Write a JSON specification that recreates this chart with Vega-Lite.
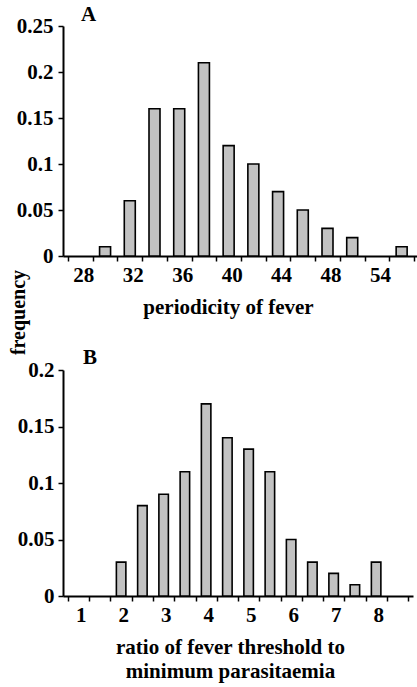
{
  "$schema": "https://vega.github.io/schema/vega-lite/v6.json",
  "padding": {"left": 9, "top": 4, "right": 0, "bottom": 2},
  "title": {"text": "frequency", "orient": "left", "anchor": "middle", "offset": -20, "dx": 30, "font": "Liberation Serif", "fontSize": 20, "fontWeight": "bold", "color": "black"},
  "config": {
    "view": {"stroke": null},
    "font": "Liberation Serif",
    "axis": {"domainColor": "black", "domainWidth": 2, "tickColor": "black", "tickWidth": 1.5, "tickSize": 5, "labelFont": "Liberation Serif", "labelFontWeight": "bold", "labelFontSize": 21, "labelColor": "black", "titleFont": "Liberation Serif", "titleFontWeight": "bold", "titleFontSize": 21, "titleColor": "black", "grid": false, "labelOverlap": false, "labelFlush": false},
    "title": {"font": "Liberation Serif", "fontSize": 21, "fontWeight": "bold", "color": "black"}
  },
  "columns": 1,
  "align": "none",
  "spacing": 30,
  "concat": [
    {
      "width": 356,
      "height": 230,
      "title": {"text": "A", "anchor": "start", "frame": "group", "dx": 18, "offset": -27, "baseline": "alphabetic"},
      "data": {"values": [
        {"period": 30, "frequency": 0.01},
        {"period": 32, "frequency": 0.06},
        {"period": 34, "frequency": 0.16},
        {"period": 36, "frequency": 0.16},
        {"period": 38, "frequency": 0.21},
        {"period": 40, "frequency": 0.12},
        {"period": 42, "frequency": 0.10},
        {"period": 44, "frequency": 0.07},
        {"period": 46, "frequency": 0.05},
        {"period": 48, "frequency": 0.03},
        {"period": 50, "frequency": 0.02},
        {"period": 54, "frequency": 0.01}
      ]},
      "mark": {"type": "bar", "width": 11, "fill": "#c2c2c2", "stroke": "black", "strokeWidth": 1.6},
      "encoding": {
        "x": {"field": "period", "type": "quantitative",
          "scale": {"domain": [27, 55], "nice": false, "zero": false},
          "axis": {"values": [27,28,29,30,31,32,33,34,35,36,37,38,39,40,41,42,43,44,45,46,47,48,49,50,51,52,53,54,55],
            "format": "d",
            "tickOpacity": {"condition": {"test": "datum.value % 2 == 1", "value": 1}, "value": 0},
            "labelExpr": "datum.value == 52 ? '54' : (((datum.value - 28) % 4 == 0 && datum.value < 52) ? datum.label : '')",
            "title": "periodicity of fever", "titlePadding": 11, "titleX": 165, "labelPadding": 3, "labelOffset": 3}},
        "y": {"field": "frequency", "type": "quantitative",
          "scale": {"domain": [0, 0.25], "nice": false},
          "axis": {"values": [0, 0.05, 0.1, 0.15, 0.2, 0.25], "format": "~g", "title": null, "labelPadding": 5}}
      }
    },
    {
      "width": 350,
      "height": 226,
      "title": {"text": "B", "anchor": "start", "frame": "group", "dx": 20, "offset": -26, "baseline": "alphabetic"},
      "data": {"values": [
        {"ratio": 2, "frequency": 0.03},
        {"ratio": 2.5, "frequency": 0.08},
        {"ratio": 3, "frequency": 0.09},
        {"ratio": 3.5, "frequency": 0.11},
        {"ratio": 4, "frequency": 0.17},
        {"ratio": 4.5, "frequency": 0.14},
        {"ratio": 5, "frequency": 0.13},
        {"ratio": 5.5, "frequency": 0.11},
        {"ratio": 6, "frequency": 0.05},
        {"ratio": 6.5, "frequency": 0.03},
        {"ratio": 7, "frequency": 0.02},
        {"ratio": 7.5, "frequency": 0.01},
        {"ratio": 8, "frequency": 0.03}
      ]},
      "mark": {"type": "bar", "width": 9.5, "fill": "#c2c2c2", "stroke": "black", "strokeWidth": 1.6},
      "encoding": {
        "x": {"field": "ratio", "type": "quantitative",
          "scale": {"domain": [0.75, 8.75], "nice": false, "zero": false},
          "axis": {"values": [0.75,1,1.25,1.5,1.75,2,2.25,2.5,2.75,3,3.25,3.5,3.75,4,4.25,4.5,4.75,5,5.25,5.5,5.75,6,6.25,6.5,6.75,7,7.25,7.5,7.75,8,8.25,8.5,8.75],
            "tickOpacity": {"condition": {"test": "(datum.value - 0.75) % 0.5 == 0", "value": 1}, "value": 0},
            "labelExpr": "datum.value % 1 == 0 ? format(datum.value, 'd') : ''",
            "title": ["ratio of fever threshold to", "minimum parasitaemia"], "titleLineHeight": 24, "titlePadding": 11, "titleX": 167, "labelPadding": 3, "labelOffset": 2}},
        "y": {"field": "frequency", "type": "quantitative",
          "scale": {"domain": [0, 0.2], "nice": false},
          "axis": {"values": [0, 0.05, 0.1, 0.15, 0.2], "format": "~g", "title": null, "labelPadding": 4, "minExtent": 54}}
      }
    }
  ]
}
